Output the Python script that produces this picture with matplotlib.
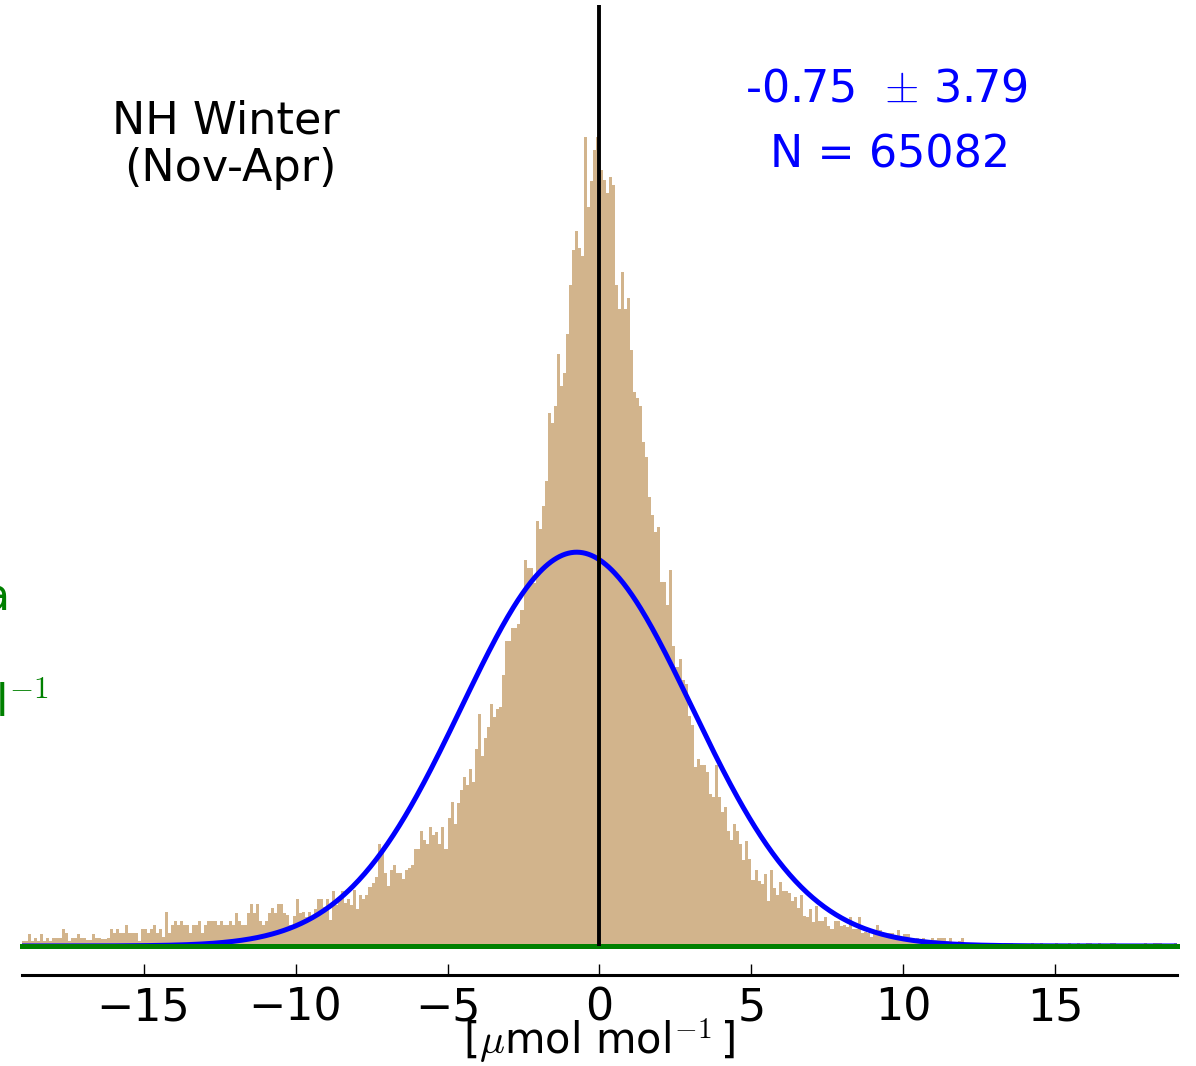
import numpy as np
import matplotlib.pyplot as plt

plt.rcParams['font.family'] = 'DejaVu Sans'
plt.rcParams['mathtext.fontset'] = 'cm'

# Histogram of model - obs differences (counts per 0.1 bin)
# ------------------------------------------------------------------------------
bin_left = -19.0
bin_width = 0.1
counts = [
    8, 8, 21, 8, 14, 8, 21, 8, 14, 8,
    14, 14, 14, 29, 22, 8, 14, 14, 21, 14,
    14, 11, 11, 21, 14, 14, 12, 12, 14, 29,
    22, 29, 22, 22, 37, 22, 22, 22, 8, 29,
    29, 22, 29, 37, 22, 29, 15, 59, 22, 37,
    43, 37, 43, 37, 37, 22, 37, 37, 43, 22,
    37, 43, 43, 43, 37, 43, 37, 37, 43, 37,
    58, 43, 37, 37, 58, 73, 58, 73, 44, 37,
    44, 57, 66, 58, 73, 73, 58, 54, 37, 53,
    82, 57, 59, 51, 59, 51, 65, 82, 81, 68,
    82, 45, 96, 71, 83, 96, 74, 82, 71, 98,
    65, 88, 81, 88, 102, 110, 120, 178, 161, 127,
    104, 132, 140, 127, 127, 117, 132, 135, 140, 169,
    169, 200, 184, 178, 207, 193, 198, 178, 207, 169,
    222, 250, 212, 249, 272, 294, 280, 308, 285, 343,
    404, 330, 362, 381, 421, 398, 412, 416, 471, 531,
    531, 553, 553, 560, 585, 672, 658, 658, 632, 740,
    726, 766, 809, 927, 910, 940, 1030, 975, 997, 1065,
    1150, 1210, 1244, 1215, 1200, 1408, 1285, 1330, 1385, 1408,
    1350, 1333, 1310, 1337, 1323, 1150, 1109, 1172, 1109, 1128,
    1036, 963, 954, 940, 877, 850, 781, 750, 720, 729,
    634, 634, 594, 654, 522, 486, 500, 462, 456, 400,
    384, 312, 325, 315, 314, 303, 265, 259, 315, 259,
    233, 242, 200, 185, 213, 200, 177, 150, 183, 152,
    115, 133, 113, 108, 125, 78, 133, 100, 88, 111,
    95, 95, 92, 78, 85, 66, 88, 52, 51, 65,
    42, 69, 44, 44, 51, 34, 30, 44, 44, 34,
    36, 33, 51, 29, 29, 51, 22, 24, 22, 16,
    22, 36, 28, 19, 15, 22, 22, 13, 27, 13,
    20, 20, 10, 10, 13, 9, 13, 9, 9, 13,
    10, 13, 13, 13, 9, 13, 5, 5, 9, 13,
    5, 5, 5, 5, 5, 5, 4, 4, 5, 5,
    4, 5, 0, 5, 5, 5, 0, 0, 0, 0,
    0, 0, 5, 0, 0, 5, 0, 0, 0, 0,
    5, 0, 0, 0, 5, 0, 0, 5, 0, 0,
    5, 5, 0, 0, 5, 0, 0, 0, 5, 5,
    0, 0, 0, 0, 0, 0, 0, 0, 0, 5,
    0, 0, 5, 5, 5, 0, 0, 0, 0, 5,
]

# Gaussian fit stats
mean = -0.75
std = 3.79
n_obs = 65082

xticks = [-15, -10, -5, 0, 5, 10, 15]

# Plot
# ----
fig = plt.figure(figsize=(11.96, 10.66), dpi=100)
ax = fig.add_axes([0.0184, 0.1126, 0.9657, 0.8827])

edges = bin_left + bin_width * np.arange(len(counts))
ax.bar(edges, counts, width=bin_width, align='edge', color='tan',
       linewidth=0, zorder=1)

xs = np.linspace(-19, 19, 800)
gauss = n_obs * bin_width * np.exp(-0.5 * ((xs - mean) / std)**2) / (std * np.sqrt(2 * np.pi))
ax.plot(xs, gauss, color='blue', lw=3.6, zorder=2)

ax.axhline(0, color='green', lw=3.6, zorder=3, clip_on=False)
ax.axvline(0, color='black', lw=2.8, zorder=4)

ax.set_xlim(-19, 19)
ax.set_ylim(0, 1637)

for s in ['left', 'right', 'top']:
    ax.spines[s].set_visible(False)
ax.spines['bottom'].set_position(('outward', 21))
ax.spines['bottom'].set_linewidth(2.2)
ax.set_yticks([])
ax.set_xticks(xticks)
ax.tick_params(axis='x', direction='in', length=8, width=1, pad=8,
               labelsize=32, top=False)

ax.set_xlabel(r'[$\mu$mol mol$^{-1}\,$]', fontsize=30)
ax.xaxis.set_label_coords(0.5, -0.075)

# Annotations
fig.text(226 / 1196, 1 - 133 / 1066, 'NH Winter', fontsize=32,
         ha='center', va='baseline')
fig.text(230 / 1196, 1 - 181 / 1066, '(Nov-Apr)', fontsize=32,
         ha='center', va='baseline')
fig.text(886 / 1196, 1 - 102 / 1066, f'{mean:.2f}  $\\pm$ {std:.2f}',
         fontsize=32, color='blue', ha='center', va='baseline')
fig.text(890 / 1196, 1 - 167 / 1066, f'N = {n_obs}', fontsize=32,
         color='blue', ha='center', va='baseline')

# clipped y label of the green series
fig.text(11 / 1196, 1 - 609 / 1066, 'Data', fontsize=32, color='green',
         ha='right', va='baseline')
fig.text(49 / 1196, 1 - 717 / 1066, r'$\mu$mol mol$^{-1}$', fontsize=32,
         color='green', ha='right', va='baseline')

fig.savefig('out.png', dpi=100)
